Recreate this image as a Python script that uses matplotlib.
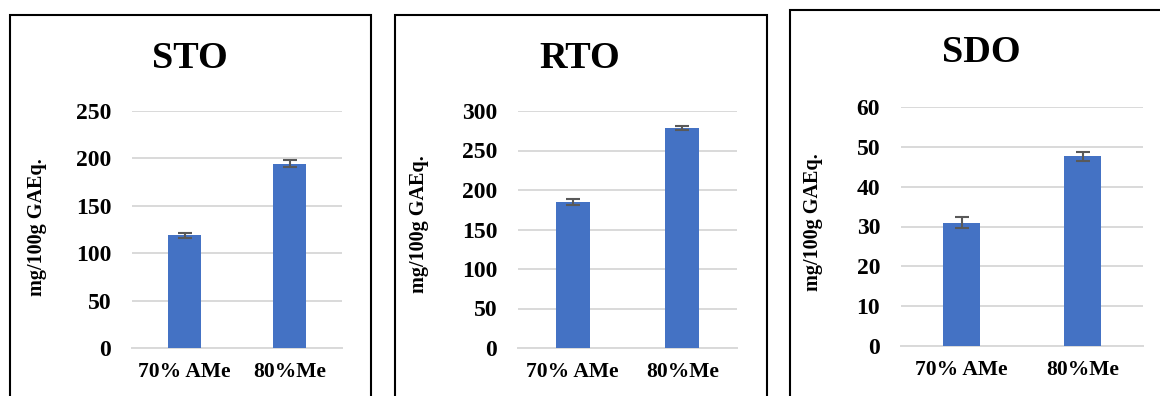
import matplotlib
matplotlib.use("Agg")
import matplotlib.pyplot as plt
from matplotlib.patches import Rectangle

plt.rcParams['font.family'] = ['Liberation Serif', 'DejaVu Serif']
plt.rcParams['font.weight'] = 'bold'

# --- data ---
categories = ['70% AMe', '80%Me']
titles = ['STO', 'RTO', 'SDO']
sto_values = [119, 194.5]
sto_errors = [2.5, 3.5]
rto_values = [184.5, 278.5]
rto_errors = [4, 3]
sdo_values = [31, 47.6]
sdo_errors = [1.5, 1.1]
y_limits = [250, 300, 60]
y_steps = [50, 50, 10]

W, H = 1160, 396
fig = plt.figure(figsize=(W / 100, H / 100), dpi=100)

# panel layout in pixels: (axes left, axes right, y0 pixel, ytop pixel)
layout = [
    (132, 342, 348, 111),
    (518, 737, 348, 111),
    (901, 1143, 346, 107),
]
frames = [(10, 15, 371), (395, 15, 767), (790, 10, 1170)]
title_pos = [(190, 58), (580, 58), (981, 53)]
ylabel_x = [47, 429, 823]
ylabel_y = [227, 224, 222]

series = [(sto_values, sto_errors), (rto_values, rto_errors), (sdo_values, sdo_errors)]

for i in range(3):
    left, right, y0, ytop = layout[i]
    ax = fig.add_axes([left / W, (H - y0) / H, (right - left) / W, (y0 - ytop) / H])
    vals, errs = series[i]
    x = range(len(categories))
    ax.bar(x, vals, width=0.31, color='#4472C4', zorder=3)
    ax.errorbar(x, vals, yerr=errs, fmt='none', ecolor='#595959',
                elinewidth=1.5, capsize=5, capthick=1.5, zorder=4)
    ax.set_xlim(-0.5, 1.5)
    ax.set_ylim(0, y_limits[i])
    ax.set_yticks(range(0, y_limits[i] + 1, y_steps[i]))
    ax.set_xticks(list(x))
    ax.set_xticklabels(categories)
    ax.grid(axis='y', color='#D9D9D9', linewidth=1.4, zorder=0)
    for s in ['top', 'right', 'left']:
        ax.spines[s].set_visible(False)
    ax.spines['bottom'].set_color('#D9D9D9')
    ax.spines['bottom'].set_linewidth(1.4)
    ax.tick_params(axis='y', length=0, pad=15, labelsize=17)
    ax.tick_params(axis='x', length=0, pad=10, labelsize=15.5)
    for lab in ax.get_xticklabels() + ax.get_yticklabels():
        lab.set_fontweight('bold')
    ax.set_ylabel('mg/100g GAEq.', fontsize=14.5, fontweight='bold')
    ax.yaxis.set_label_coords((ylabel_x[i] - left) / (right - left),
                              (y0 - ylabel_y[i]) / (y0 - ytop))

    tx, ty = title_pos[i]
    fig.text(tx / W, 1 - ty / H, titles[i], ha='center', va='center',
             fontsize=27.5, fontweight='bold')

    fl, ft, fr = frames[i]
    fig.patches.append(Rectangle((fl / W, -0.1), (fr - fl) / W, 1 - ft / H + 0.1,
                                 transform=fig.transFigure, fill=False,
                                 edgecolor='black', linewidth=1.5))

fig.savefig('out.png', dpi=100)
